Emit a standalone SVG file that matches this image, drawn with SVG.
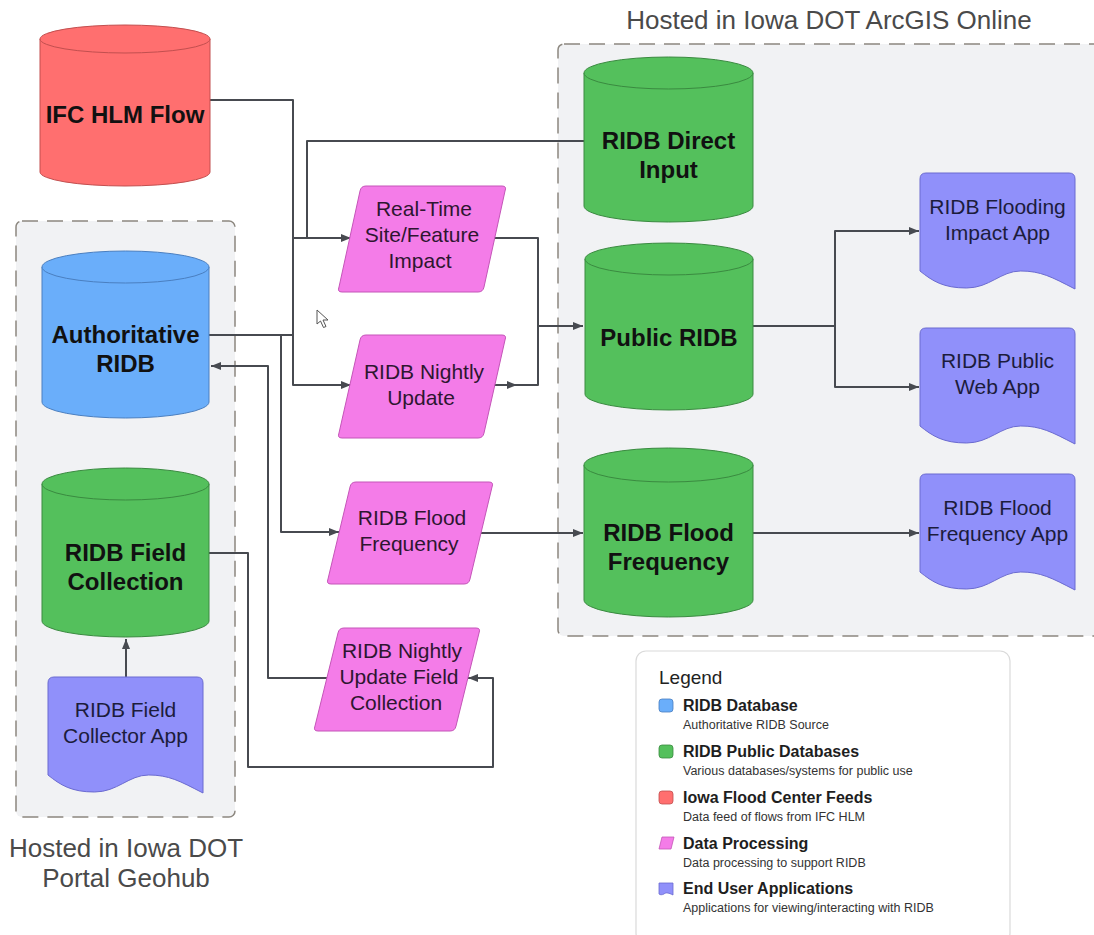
<svg xmlns="http://www.w3.org/2000/svg" width="1094" height="935" viewBox="0 0 1094 935">
<defs>
<marker id="arr" viewBox="0 0 10 8" refX="10" refY="4" markerWidth="10" markerHeight="8" markerUnits="userSpaceOnUse" orient="auto">
<path d="M0,0 L10,4 L0,8 Z" fill="#474a50"/>
</marker>
<style>
.cont{fill:#f1f2f4;stroke:#8c877f;stroke-width:1.5;stroke-dasharray:16 9}
.title{font-family:"Liberation Sans",Arial,sans-serif;font-size:26px;fill:#4a4a4a;text-anchor:middle}
.red{fill:#ff6f6f;stroke:#c24f4f;stroke-width:1}
.green{fill:#54c05c;stroke:#3a8a40;stroke-width:1}
.blue{fill:#6aaefa;stroke:#4a7fc0;stroke-width:1}
.pink{fill:#f47ce8;stroke:#c455b8;stroke-width:1;stroke-linejoin:round}
.purple{fill:#9090fa;stroke:#6a6ad0;stroke-width:1;stroke-linejoin:round}
.cyl{font-family:"Liberation Sans",Arial,sans-serif;font-size:24px;font-weight:bold;fill:#111;text-anchor:middle}
.ptxt{font-family:"Liberation Sans",Arial,sans-serif;font-size:21px;fill:#2e1630;text-anchor:middle}
.dtxt{font-family:"Liberation Sans",Arial,sans-serif;font-size:21px;fill:#1c1c3c;text-anchor:middle}
.conn{fill:none;stroke:#474a50;stroke-width:2;stroke-linejoin:round}
.lh{font-family:"Liberation Sans",Arial,sans-serif;font-size:16px;font-weight:bold;fill:#1e1e1e}
.ls{font-family:"Liberation Sans",Arial,sans-serif;font-size:12.5px;fill:#333}
</style>
</defs>
<rect width="1094" height="935" fill="#ffffff"/>

<g id="container-arcgis">
<rect class="cont" x="558" y="44" width="560" height="592" rx="6"/>
<text class="title" x="829" y="29">Hosted in Iowa DOT ArcGIS Online</text>
</g>
<g id="container-geohub">
<rect class="cont" x="16" y="221" width="219" height="596" rx="6"/>
<text class="title" x="126" y="857">Hosted in Iowa DOT</text>
<text class="title" x="126" y="887">Portal Geohub</text>
</g>

<g id="connectors">
<path class="conn" d="M210,100 H293 V238 H351" marker-end="url(#arr)"/>
<path class="conn" d="M584,141 H307 V238"/>
<path class="conn" d="M209,335 H293 V238"/>
<path class="conn" d="M293,335 V385 H351" marker-end="url(#arr)"/>
<path class="conn" d="M281,335 V532 H339" marker-end="url(#arr)"/>
<path class="conn" d="M327,678 H268 V366 H211" marker-end="url(#arr)"/>
<path class="conn" d="M209,553 H248 V767 H493 V678 H468" marker-end="url(#arr)"/>
<path class="conn" d="M126,677 V639" marker-end="url(#arr)"/>
<path class="conn" d="M494,238 H538 V326 H583" marker-end="url(#arr)"/>
<path class="conn" d="M494,385 H538 V326"/>
<path d="M507,381 L517,385 L507,389 Z" fill="#474a50"/>
<path class="conn" d="M753,326 H835 V231 H919" marker-end="url(#arr)"/>
<path class="conn" d="M835,326 V387 H919" marker-end="url(#arr)"/>
<path class="conn" d="M481,533 H583" marker-end="url(#arr)"/>
<path class="conn" d="M753,533 H919" marker-end="url(#arr)"/>
</g>

<g id="ifc-hlm-flow">
<path class="red" d="M40,39 V172 A85,14 0 0 0 210,172 V39 Z"/>
<ellipse class="red" cx="125" cy="39" rx="85" ry="14"/>
<text class="cyl" x="125" y="123">IFC HLM Flow</text>
</g>

<g id="authoritative-ridb">
<path class="blue" d="M42,267 V402 A83.5,16 0 0 0 209,402 V267 Z"/>
<ellipse class="blue" cx="125.5" cy="267" rx="83.5" ry="16"/>
<text class="cyl" x="125.5" y="343">Authoritative</text>
<text class="cyl" x="125.5" y="372">RIDB</text>
</g>

<g id="ridb-field-collection">
<path class="green" d="M42,484 V621 A83.5,16 0 0 0 209,621 V484 Z"/>
<ellipse class="green" cx="125.5" cy="484" rx="83.5" ry="16"/>
<text class="cyl" x="125.5" y="561">RIDB Field</text>
<text class="cyl" x="125.5" y="590">Collection</text>
</g>

<g id="ridb-field-collector-app">
<path class="purple" d="M54,677 H197 Q203,677 203,683 V793 C179.75,781 168.9,775 148.75,775 C128.6,775 117.75,792 94.5,792 C71.25,792 60.4,785 48,775 V683 Q48,677 54,677 Z"/>
<text class="dtxt" x="125.5" y="717">RIDB Field</text>
<text class="dtxt" x="125.5" y="743">Collector App</text>
</g>

<g id="ridb-direct-input">
<path class="green" d="M584,73 V206 A84.5,16 0 0 0 753,206 V73 Z"/>
<ellipse class="green" cx="668.5" cy="73" rx="84.5" ry="16"/>
<text class="cyl" x="668.5" y="149">RIDB Direct</text>
<text class="cyl" x="668.5" y="178">Input</text>
</g>

<g id="public-ridb">
<path class="green" d="M585,259 V394 A84,16 0 0 0 753,394 V259 Z"/>
<ellipse class="green" cx="669" cy="259" rx="84" ry="16"/>
<text class="cyl" x="669" y="346">Public RIDB</text>
</g>

<g id="ridb-flood-frequency-db">
<path class="green" d="M584,465 V600 A84.5,17 0 0 0 753,600 V465 Z"/>
<ellipse class="green" cx="668.5" cy="465" rx="84.5" ry="17"/>
<text class="cyl" x="668.5" y="541">RIDB Flood</text>
<text class="cyl" x="668.5" y="570">Frequency</text>
</g>

<g id="real-time-impact">
<path class="pink" d="M366,186 H502 Q507,186 505,191 L484,287 Q483,292 478,292 H342 Q337,292 339,287 L360,191 Q361,186 366,186 Z"/>
<text class="ptxt" x="424" y="216">Real-Time</text>
<text class="ptxt" x="422" y="242">Site/Feature</text>
<text class="ptxt" x="420" y="268">Impact</text>
</g>

<g id="ridb-nightly-update">
<path class="pink" d="M366,335 H502 Q507,335 505,340 L484,433 Q483,438 478,438 H342 Q337,438 339,433 L360,340 Q361,335 366,335 Z"/>
<text class="ptxt" x="424" y="379">RIDB Nightly</text>
<text class="ptxt" x="421" y="405">Update</text>
</g>

<g id="ridb-flood-frequency-proc">
<path class="pink" d="M356,482 H489 Q494,482 492,487 L470,579 Q469,584 464,584 H331 Q326,584 328,579 L350,487 Q351,482 356,482 Z"/>
<text class="ptxt" x="412" y="525">RIDB Flood</text>
<text class="ptxt" x="409" y="551">Frequency</text>
</g>

<g id="ridb-nightly-update-field-collection">
<path class="pink" d="M344,628 H476 Q481,628 479,633 L456,726 Q455,731 450,731 H318 Q313,731 315,726 L338,633 Q339,628 344,628 Z"/>
<text class="ptxt" x="402" y="658">RIDB Nightly</text>
<text class="ptxt" x="399" y="684">Update Field</text>
<text class="ptxt" x="396" y="710">Collection</text>
</g>

<g id="ridb-flooding-impact-app">
<path class="purple" d="M926,173 H1069 Q1075,173 1075,179 V289 C1051.75,277 1040.9,271 1020.75,271 C1000.6,271 989.75,288 966.5,288 C943.25,288 932.4,281 920,271 V179 Q920,173 926,173 Z"/>
<text class="dtxt" x="997.5" y="214">RIDB Flooding</text>
<text class="dtxt" x="997.5" y="240">Impact App</text>
</g>

<g id="ridb-public-web-app">
<path class="purple" d="M926,328 H1069 Q1075,328 1075,334 V444 C1051.75,432 1040.9,426 1020.75,426 C1000.6,426 989.75,443 966.5,443 C943.25,443 932.4,436 920,426 V334 Q920,328 926,328 Z"/>
<text class="dtxt" x="997.5" y="368">RIDB Public</text>
<text class="dtxt" x="997.5" y="394">Web App</text>
</g>

<g id="ridb-flood-frequency-app">
<path class="purple" d="M926,474 H1069 Q1075,474 1075,480 V590 C1051.75,578 1040.9,572 1020.75,572 C1000.6,572 989.75,589 966.5,589 C943.25,589 932.4,582 920,572 V480 Q920,474 926,474 Z"/>
<text class="dtxt" x="997.5" y="515">RIDB Flood</text>
<text class="dtxt" x="997.5" y="541">Frequency App</text>
</g>

<g id="cursor">
<path d="M317,310 V324 L320.5,321 L323.5,327.5 L326,326.5 L323,320 L328,320 Z" fill="#ffffff" stroke="#555" stroke-width="1" stroke-linejoin="round"/>
</g>

<g id="legend">
<rect x="636" y="651" width="374" height="292" rx="10" fill="#ffffff" stroke="#dadada" stroke-width="1.2"/>
<text x="659" y="684" font-family="Liberation Sans, Arial, sans-serif" font-size="19" fill="#222">Legend</text>
<rect x="659" y="699" width="14" height="13" rx="3" fill="#6aaefa" stroke="#4a7fc0" stroke-width="0.8"/>
<text class="lh" x="683" y="711">RIDB Database</text>
<text class="ls" x="683" y="729">Authoritative RIDB Source</text>
<rect x="659" y="745" width="14" height="13" rx="3" fill="#54c05c" stroke="#3a8a40" stroke-width="0.8"/>
<text class="lh" x="683" y="757">RIDB Public Databases</text>
<text class="ls" x="683" y="775">Various databases/systems for public use</text>
<rect x="659" y="791" width="14" height="13" rx="3" fill="#ff6f6f" stroke="#c24f4f" stroke-width="0.8"/>
<text class="lh" x="683" y="803">Iowa Flood Center Feeds</text>
<text class="ls" x="683" y="821">Data feed of flows from IFC HLM</text>
<path d="M662,837 H674 L671,849 H659 Z" fill="#f47ce8" stroke="#c455b8" stroke-width="0.8" stroke-linejoin="round"/>
<text class="lh" x="683" y="849">Data Processing</text>
<text class="ls" x="683" y="867">Data processing to support RIDB</text>
<path d="M659,883 H673 V895 C669,893 666,892 664,894 C662,895 660,895 659,894 Z" fill="#9090fa" stroke="#6a6ad0" stroke-width="0.8"/>
<text class="lh" x="683" y="894">End User Applications</text>
<text class="ls" x="683" y="912">Applications for viewing/interacting with RIDB</text>
</g>
</svg>
